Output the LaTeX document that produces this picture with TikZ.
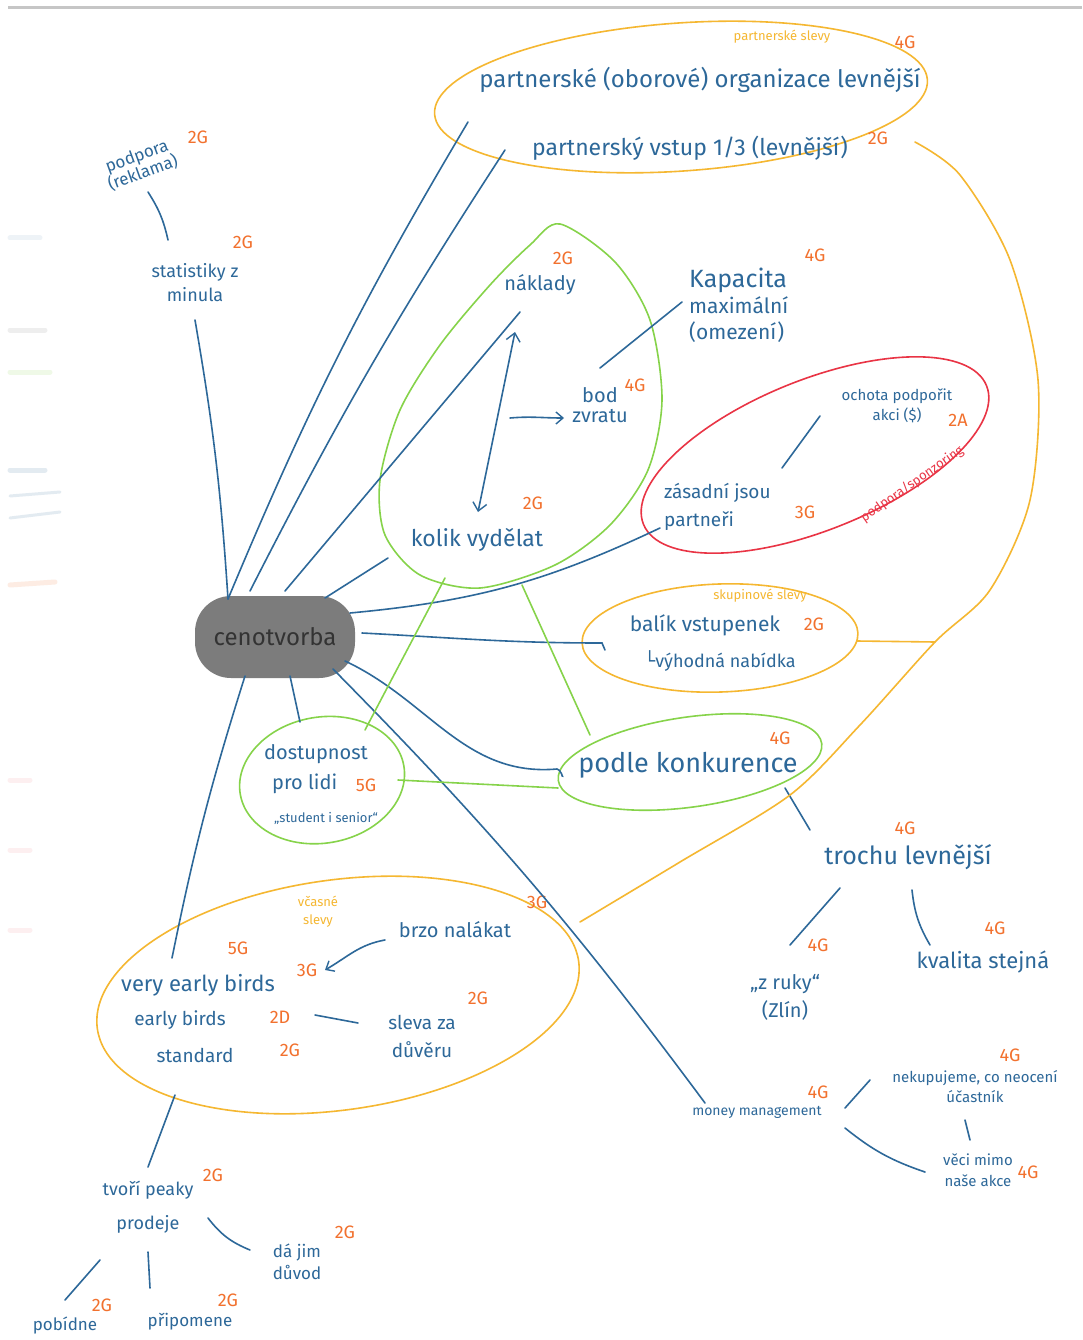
\documentclass[tikz,border=0pt]{standalone}
\usepackage{fontspec}
\setmainfont{Fira Sans}
\newfontfamily\symfont{DejaVu Sans}
\usetikzlibrary{shapes.geometric,arrows.meta,calc}
\definecolor{ink}{HTML}{2D6899}
\definecolor{tagc}{HTML}{F2712E}
\definecolor{yel}{HTML}{F5B731}
\definecolor{grn}{HTML}{86D34A}
\definecolor{rd}{HTML}{E93445}
\definecolor{blob}{HTML}{7C7C7C}
\begin{document}
\begin{tikzpicture}[x=1pt,y=-1pt,
  txt/.style={text=ink, inner sep=1pt},
  tag/.style={text=tagc, inner sep=0pt, font=\fontsize{18}{20}\selectfont},
  note/.style={text=yel, inner sep=0pt, font=\fontsize{13}{14}\selectfont},
  link/.style={draw=ink, line width=1.6pt, line cap=round},
  glink/.style={draw=grn, line width=1.6pt, line cap=round},
  ylink/.style={draw=yel, line width=1.6pt, line cap=round},
  ring/.style={line width=1.6pt},
  smudge/.style={line width=5pt, opacity=0.13, line cap=round},
  barb/.style={-{Straight Barb[length=7pt,width=12pt,line width=1.4pt]}},
]
\useasboundingbox (0,0) rectangle (1082,1340);
\fill[white] (0,0) rectangle (1082,1340);
\draw[gray!45, line width=3pt] (8,8) -- (1082,8);

% faint marks along the left margin
\draw[smudge, draw=ink!60] (10,238) -- (40,238);
\draw[smudge, draw=gray] (10,330) -- (45,330);
\draw[smudge, draw=grn] (10,372) -- (50,372);
\draw[smudge, draw=ink] (10,470) -- (45,470);
\draw[smudge, draw=ink, line width=3pt] (10,496) -- (60,492);
\draw[smudge, draw=ink, line width=3pt] (10,518) -- (60,512);
\draw[smudge, draw=tagc] (10,585) -- (55,582);
\draw[smudge, draw=rd!60] (10,780) -- (30,780);
\draw[smudge, draw=rd!60] (10,850) -- (30,850);
\draw[smudge, draw=rd!60] (10,930) -- (30,930);

% ---------- outlines ----------
\coordinate (Etop) at (681,97);
\coordinate (Ered) at (815,455);
\coordinate (Ebal) at (720,638);
\coordinate (Edost) at (322,780);
\coordinate (Ekonk) at (690,762);
\coordinate (Elow) at (338,995);
\draw[ring, draw=yel, rotate around={4:(Etop)}] (Etop) ellipse [x radius=247, y radius=74];
\draw[grn, line width=1.6pt] plot[smooth cycle] coordinates {(560,224) (615,262) (650,320) (662,400) (648,470) (610,525) (555,565) (480,588) (420,575) (385,535) (380,480) (400,410) (440,345) (490,285) (530,245)};
\draw[ring, draw=rd, rotate around={22:(Ered)}] (Ered) ellipse [x radius=185, y radius=75];
\draw[ring, draw=yel, rotate around={2:(Ebal)}] (Ebal) ellipse [x radius=138, y radius=54];
\draw[ring, draw=grn, rotate around={10:(Edost)}] (Edost) ellipse [x radius=83, y radius=63];
\draw[ring, draw=grn, rotate around={8:(Ekonk)}] (Ekonk) ellipse [x radius=133, y radius=45];
\draw[ring, draw=yel, rotate around={8:(Elow)}] (Elow) ellipse [x radius=243, y radius=115];

% ---------- central node ----------
\node[fill=blob, rounded corners=36pt, minimum width=160pt, minimum height=82pt,
      text=black!80, font=\fontsize{24}{26}\selectfont] (ceno) at (275,637) {cenotvorba};

% ---------- top group ----------
\node[note] (pslevy) at (782,37) {partnerské slevy};
\node[tag] at (905,42) {4G};
\node[txt, font=\fontsize{24}{26}\selectfont] (org) at (700,80) {partnerské (oborové) organizace levnější};
\node[txt, font=\fontsize{23}{25}\selectfont] (vstup) at (690,148) {partnerský vstup 1/3 (levnější)};
\node[tag] at (878,138) {2G};

% ---------- left column ----------
\node[txt, rotate=20, align=center, font=\fontsize{17}{18}\selectfont] (podp) at (140,165) {podpora\\(reklama)};
\node[tag] at (198,137) {2G};
\node[txt, align=center, font=\fontsize{18}{24}\selectfont] (stat) at (195,283) {statistiky z\\minula};
\node[tag] at (243,242) {2G};

% ---------- costs egg ----------
\node[txt, font=\fontsize{20}{22}\selectfont] (nakl) at (540,285) {náklady};
\node[tag] at (563,258) {2G};
\node[txt, align=center, font=\fontsize{20}{20}\selectfont] (bod) at (600,405) {bod\\zvratu};
\node[tag] at (635,385) {4G};
\node[txt, font=\fontsize{23}{25}\selectfont] (kolik) at (477,540) {kolik vydělat};
\node[tag] at (533,503) {2G};
\node[txt, anchor=west, align=left, font=\fontsize{21}{26}\selectfont] (kap) at (688,305) {{\fontsize{25}{26}\selectfont Kapacita}\\ maximální\\ (omezení)};
\node[tag] at (815,255) {4G};

% ---------- partners ----------
\node[txt, align=center, font=\fontsize{15}{20}\selectfont] (ochota) at (897,406) {ochota podpořit\\akci (\$)};
\node[tag] at (958,420) {2A};
\node[txt, anchor=west, align=left, font=\fontsize{19}{28}\selectfont] (zas) at (663,507) {zásadní jsou\\partneři};
\node[tag] at (805,512) {3G};
\node[text=rd, rotate=35, inner sep=0pt, font=\fontsize{13}{14}\selectfont] (spons) at (912,484) {podpora/sponzoring};

% ---------- bundle ----------
\node[note] (skup) at (760,596) {skupinové slevy};
\node[txt, font=\fontsize{21}{22}\selectfont] (balik) at (705,625) {balík vstupenek};
\node[tag] at (814,624) {2G};
\node[txt, font=\fontsize{18}{20}\selectfont] (vyhod) at (720,661) {{\symfont └}výhodná nabídka};

% ---------- accessibility / competition ----------
\node[txt, align=center, font=\fontsize{20}{30}\selectfont] (dost) at (316,769) {dostupnost\\pro lidi\phantom{5G}};
\node[tag] at (366,785) {5G};
\node[txt, font=\fontsize{13}{14}\selectfont] (stud) at (326,818) {„student i senior“};
\node[txt, font=\fontsize{27}{28}\selectfont] (konk) at (688,765) {podle konkurence};
\node[tag] at (780,738) {4G};
\node[txt, font=\fontsize{25}{27}\selectfont] (troch) at (908,857) {trochu levnější};
\node[tag] at (905,828) {4G};
\node[txt, align=center, font=\fontsize{20}{28}\selectfont] (ruky) at (785,997) {„z ruky“\\(Zlín)};
\node[tag] at (818,945) {4G};
\node[txt, font=\fontsize{22}{24}\selectfont] (kval) at (983,962) {kvalita stejná};
\node[tag] at (995,928) {4G};

% ---------- early discounts ----------
\node[note, align=center, font=\fontsize{13}{18}\selectfont] (vcas) at (318,912) {včasné\\slevy};
\node[txt, font=\fontsize{22}{24}\selectfont] (veb) at (198,985) {very early birds};
\node[tag] at (238,948) {5G};
\node[tag] at (307,970) {3G};
\node[txt, font=\fontsize{20}{22}\selectfont] (brzo) at (455,930) {brzo nalákat};
\node[tag] at (537,902) {3G};
\node[txt, font=\fontsize{19}{20}\selectfont] (eb) at (180,1020) {early birds};
\node[tag] at (280,1017) {2D};
\node[txt, font=\fontsize{19}{20}\selectfont] (std) at (195,1055) {standard};
\node[tag] at (290,1050) {2G};
\node[txt, align=center, font=\fontsize{19}{28}\selectfont] (sleva) at (422,1036) {sleva za\\důvěru};
\node[tag] at (478,998) {2G};

% ---------- money management ----------
\node[txt, font=\fontsize{14}{16}\selectfont] (money) at (757,1112) {money management};
\node[tag] at (818,1092) {4G};
\node[txt, align=center, font=\fontsize{15}{20}\selectfont] (nekup) at (975,1087) {nekupujeme, co neocení\\účastník};
\node[tag] at (1010,1055) {4G};
\node[txt, align=center, font=\fontsize{15}{21}\selectfont] (veci) at (978,1170) {věci mimo\\naše akce};
\node[tag] at (1028,1172) {4G};

% ---------- sales peaks ----------
\node[txt, align=center, font=\fontsize{18}{34}\selectfont] (tvori) at (148,1207) {tvoří peaky\\prodeje};
\node[tag] at (213,1175) {2G};
\node[txt, align=center, font=\fontsize{17}{22}\selectfont] (dajim) at (297,1262) {dá jim\\důvod};
\node[tag] at (345,1232) {2G};
\node[txt, font=\fontsize{17}{18}\selectfont] (pobid) at (65,1325) {pobídne};
\node[tag] at (102,1305) {2G};
\node[txt, font=\fontsize{17}{18}\selectfont] (pripo) at (190,1322) {připomene};
\node[tag] at (228,1300) {2G};

% ---------- blue connectors ----------
\draw[link] ($(ceno)+(-47,-38)$) to[bend left=4] ($(Etop)+(-213,25)$);
\draw[link] ($(ceno)+(-25,-46)$) to[bend left=3] ($(vstup)+(-185,2)$);
\draw[link] ($(ceno)+(10,-46)$) -- ($(nakl)+(-20,27)$);
\draw[link] ($(ceno)+(50,-39)$) -- ($(kolik)+(-89,18)$);
\draw[link] ($(ceno)+(75,-24)$) to[bend right=10] ($(zas.west)+(-3,21)$);
\draw[link] ($(ceno)+(87,-4)$) to[out=-3,in=180] ($(Ebal)+(-118,5)$) -- ($(Ebal)+(-115,12)$);
\draw[link] ($(ceno)+(70,24)$) to[out=-25,in=185] ($(Ekonk)+(-133,7)$) to[out=5,in=-60] ($(Ekonk)+(-128,14)$);
\draw[link] ($(ceno)+(58,32)$) to[bend left=4] ($(money)+(-52,-9)$);
\draw[link] ($(ceno)+(15,39)$) -- ($(Edost)+(-22,-58)$);
\draw[link] ($(ceno)+(-30,39)$) to[bend right=3] ($(veb)+(-26,-27)$);
\draw[link] ($(podp)+(8,27)$) to[bend left=10] ($(stat)+(-27,-43)$);
\draw[link] ($(stat)+(0,37)$) to[bend left=3] ($(ceno)+(-47,-38)$);
\draw[link] ($(bod)+(0,-37)$) -- ($(kap.west)+(-6,-3)$);
\draw[link, {Straight Barb[length=8pt,width=14pt,line width=1.4pt]}-{Straight Barb[length=8pt,width=14pt,line width=1.4pt]}] ($(nakl)+(-25,47)$) -- ($(kolik)+(1,-28)$);
\draw[link, barb] ($(bod)+(-90,13)$) to[out=5,in=180] ($(bod)+(-36,13)$);
\draw[link] ($(ochota)+(-77,10)$) -- ($(zas.west)+(119,-39)$);
\draw[link] ($(Ekonk)+(95,26)$) -- ($(troch)+(-98,-27)$);
\draw[link] ($(troch)+(-68,31)$) -- ($(ruky)+(5,-52)$);
\draw[link] ($(troch)+(4,33)$) to[bend right=12] ($(kval)+(-53,-17)$);
\draw[link, barb] ($(brzo)+(-70,10)$) to[out=190,in=30] ($(veb)+(127,-15)$);
\draw[link] ($(eb)+(135,-5)$) -- ($(sleva)+(-64,-13)$);
\draw[link] ($(Elow)+(-163,100)$) -- ($(tvori)+(0,-40)$);
\draw[link] ($(tvori)+(60,11)$) to[bend right=15] ($(dajim)+(-47,-12)$);
\draw[link] ($(tvori)+(-48,53)$) -- ($(pobid)+(0,-25)$);
\draw[link] ($(tvori)+(0,45)$) -- ($(pripo)+(-40,-34)$);
\draw[link] ($(money)+(88,-4)$) -- ($(nekup)+(-105,-7)$);
\draw[link] ($(nekup)+(-10,33)$) -- ($(veci)+(-8,-30)$);
\draw[link] ($(money)+(88,16)$) to[bend right=10] ($(veci)+(-53,2)$);

% ---------- green connectors ----------
\draw[glink] ($(kolik)+(-32,38)$) -- ($(Edost)+(43,-50)$);
\draw[glink] ($(kolik)+(45,45)$) -- ($(Ekonk)+(-100,-27)$);
\draw[glink] ($(Edost)+(76,0)$) -- ($(Ekonk)+(-132,26)$);

% ---------- yellow connectors ----------
\coordinate (ymid) at (935,642);
\draw[ylink] plot[smooth] coordinates {($(Etop)+(234,45)$) (960,175) (1010,260) (1038,380) (1030,500) (990,590) (ymid) (860,725) (790,795) (680,862) ($(Elow)+(242,-73)$)};
\draw[ylink] ($(Ebal)+(137,3)$) -- (ymid);
\end{tikzpicture}
\end{document}
